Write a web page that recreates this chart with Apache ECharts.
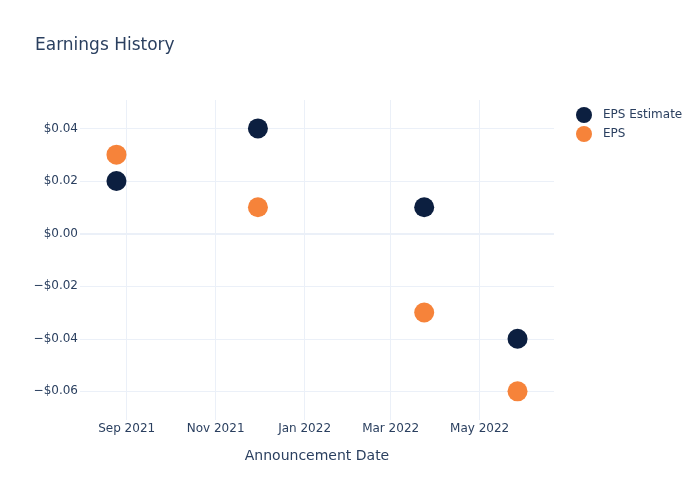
<!DOCTYPE html>
<html>
<head>
<meta charset="utf-8">
<script src="https://cdn.jsdelivr.net/npm/echarts@6/dist/echarts.min.js"></script>
<style>html,body{margin:0;padding:0;background:#fff}#c{width:700px;height:500px}</style>
</head>
<body>
<div id="c"></div>
<script>
const dates = ['2021-08-25', '2021-11-30', '2022-03-24', '2022-05-27'];
const epsEstimate = [0.02, 0.04, 0.01, -0.04];
const eps = [0.03, 0.01, -0.03, -0.06];
const xRange = ['2021-07-31T00:00:00', '2022-06-21T00:00:00'];
const yRange = [-0.0709, 0.0508];
const monthNames = ['Jan','Feb','Mar','Apr','May','Jun','Jul','Aug','Sep','Oct','Nov','Dec'];

const FONT = 'DejaVu Sans';
const TXT = '#2a3f5f';
const GRID = '#EBF0F8';

const chart = echarts.init(document.getElementById('c'));
chart.setOption({
  animation: false,
  backgroundColor: '#fff',
  textStyle: { fontFamily: FONT },
  title: {
    text: 'Earnings History',
    left: 30, top: 32,
    textStyle: { fontFamily: FONT, fontSize: 17, fontWeight: 'normal', color: TXT }
  },
  legend: {
    orient: 'vertical',
    left: 571, top: 102,
    itemWidth: 16, itemHeight: 16, itemGap: 3,
    icon: 'circle',
    textStyle: { fontFamily: FONT, fontSize: 12, color: TXT, padding: [0, 0, 0, 6] },
    data: ['EPS Estimate', 'EPS']
  },
  grid: { left: 80, right: 146, top: 100, bottom: 80, containLabel: false },
  xAxis: {
    type: 'time',
    min: new Date(xRange[0]).getTime(),
    max: new Date(xRange[1]).getTime(),
    splitNumber: 5,
    name: 'Announcement Date',
    nameLocation: 'middle',
    nameGap: 29,
    nameTextStyle: { fontFamily: FONT, fontSize: 14, color: TXT },
    axisLine: { show: false },
    axisTick: { show: false },
    splitLine: { show: true, showMinLine: false, showMaxLine: false, lineStyle: { color: GRID, width: 1 } },
    axisLabel: {
      fontFamily: FONT, fontSize: 12, color: TXT, margin: 3,
      showMinLabel: false, showMaxLabel: false,
      formatter: function (v) {
        const d = new Date(v);
        return monthNames[d.getMonth()] + ' ' + d.getFullYear();
      }
    }
  },
  yAxis: {
    type: 'value',
    min: yRange[0], max: yRange[1],
    axisLine: { show: false },
    axisTick: { show: false },
    splitLine: { show: true, showMinLine: false, showMaxLine: false, lineStyle: { color: GRID, width: 1 } },
    axisLabel: {
      fontFamily: FONT, fontSize: 12, color: TXT, margin: 2,
      showMinLabel: false, showMaxLabel: false,
      formatter: function (v) {
        const r = Math.round(v * 100) / 100;
        return (r < 0 ? '\u2212' : '') + '$' + Math.abs(r).toFixed(2);
      }
    }
  },
  series: [
    {
      name: 'EPS Estimate',
      type: 'scatter',
      symbolSize: 20,
      itemStyle: { color: '#0c1f40', opacity: 1 },
      data: dates.map((d, i) => [d, epsEstimate[i]]),
      z: 3,
      markLine: {
        silent: true, symbol: 'none', label: { show: false },
        lineStyle: { color: GRID, width: 2, type: 'solid' },
        data: [{ yAxis: 0 }],
        z: 1
      }
    },
    {
      name: 'EPS',
      type: 'scatter',
      symbolSize: 20,
      itemStyle: { color: '#f6833a', opacity: 1 },
      data: dates.map((d, i) => [d, eps[i]]),
      z: 3
    }
  ]
});
</script>
</body>
</html>
